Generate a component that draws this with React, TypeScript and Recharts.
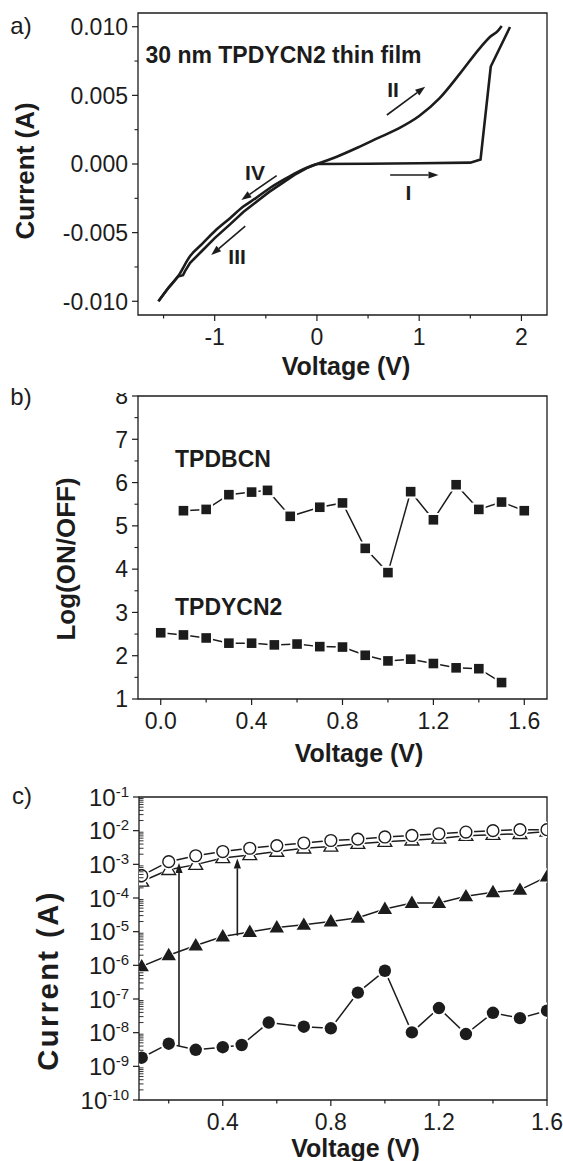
import React from 'react'
import { ComposedChart, Line, Scatter, XAxis, YAxis, ReferenceArea, ReferenceLine } from 'recharts'

const FONT = '"Liberation Sans", Arial, Helvetica, sans-serif'
const INK = '#1c1c1c'
const W = 563

// ---------- a) I-V loop of the 30 nm TPDYCN2 film ----------
const sweepIV = [0, 0.5, 1.0, 1.5, 1.6, 1.7, 1.888]
const sweepIA = [0, 0.00002, 0.00005, 0.0001, 0.00032, 0.0071, 0.00998]
const sweepIIV = [0, 0.2, 0.4, 0.6, 0.8, 1.0, 1.2, 1.4, 1.6, 1.7, 1.77, 1.807]
const sweepIIA = [0, 0.00055, 0.0012, 0.0019, 0.0026, 0.0035, 0.0048, 0.0066, 0.0085, 0.0093, 0.0097, 0.01005]
const sweepIIIV = [0, -0.1, -0.22, -0.35, -0.47, -0.6, -0.72, -0.85, -1.0, -1.12, -1.24, -1.29, -1.31, -1.36, -1.45, -1.55]
const sweepIIIA = [0, -0.0003, -0.0008, -0.00145, -0.00205, -0.0028, -0.0035, -0.0044, -0.0054, -0.0063, -0.0072, -0.0078, -0.0081, -0.0082, -0.009, -0.01]
const sweepIVV = [-1.55, -1.45, -1.36, -1.24, -1.12, -1.0, -0.85, -0.72, -0.6, -0.47, -0.35, -0.22, -0.1, 0]
const sweepIVA = [-0.01, -0.009, -0.0082, -0.0067, -0.0058, -0.0049, -0.00395, -0.0031, -0.0025, -0.0018, -0.00125, -0.0007, -0.00027, 0]

const notesA = [
  { x: -1.677, y: 0.00734, text: '30 nm TPDYCN2 thin film', size: 23, anchor: 'start' },
  { x: 0.745, y: 0.0049, text: 'II', size: 21, anchor: 'middle' },
  { x: 0.895, y: -0.00262, text: 'I', size: 21, anchor: 'middle' },
  { x: -0.606, y: -0.00117, text: 'IV', size: 21, anchor: 'middle' },
  { x: -0.781, y: -0.00725, text: 'III', size: 21, anchor: 'middle' },
]
const arrowsA = [
  { x1: 0.684, y1: 0.00357, x2: 1.059, y2: 0.00563 },
  { x1: 0.716, y1: -0.0008, x2: 1.189, y2: -0.0008 },
  { x1: -0.394, y1: -0.00085, x2: -0.739, y2: -0.00262 },
  { x1: -0.701, y1: -0.00452, x2: -1.034, y2: -0.00663 },
]
const aTicksX = [-1.5, -1, -0.5, 0, 0.5, 1, 1.5, 2]
const aTicksY = [-0.01, -0.0075, -0.005, -0.0025, 0, 0.0025, 0.005, 0.0075, 0.01]

// ---------- b) ON/OFF ratio ----------
const bcnV = [0.1, 0.2, 0.3, 0.4, 0.47, 0.57, 0.7, 0.8, 0.9, 1.0, 1.1, 1.2, 1.3, 1.4, 1.5, 1.6]
const bcnLog = [5.35, 5.38, 5.72, 5.78, 5.82, 5.22, 5.43, 5.53, 4.48, 3.92, 5.79, 5.14, 5.95, 5.38, 5.55, 5.35]
const ycnV = [0, 0.1, 0.2, 0.3, 0.4, 0.5, 0.6, 0.7, 0.8, 0.9, 1.0, 1.1, 1.2, 1.3, 1.4, 1.5]
const ycnLog = [2.53, 2.48, 2.41, 2.29, 2.29, 2.25, 2.27, 2.21, 2.2, 2.01, 1.88, 1.92, 1.82, 1.72, 1.7, 1.38]
const notesB = [
  { x: 0.063, y: 6.36, text: 'TPDBCN', size: 23, anchor: 'start' },
  { x: 0.063, y: 2.94, text: 'TPDYCN2', size: 23, anchor: 'start' },
]
const bTicksX = [0, 0.2, 0.4, 0.6, 0.8, 1.0, 1.2, 1.4, 1.6]
const bTicksY = [1, 1.5, 2, 2.5, 3, 3.5, 4, 4.5, 5, 5.5, 6, 6.5, 7, 7.5, 8]

// ---------- c) ON / OFF currents ----------
const stepV = [0.1, 0.2, 0.3, 0.4, 0.5, 0.6, 0.7, 0.8, 0.9, 1.0, 1.1, 1.2, 1.3, 1.4, 1.5, 1.6]
const offCircV = [0.1, 0.2, 0.3, 0.4, 0.47, 0.57, 0.7, 0.8, 0.9, 1.0, 1.1, 1.2, 1.3, 1.4, 1.5, 1.6]
const offCircA = [1.8e-9, 4.7e-9, 3.1e-9, 3.7e-9, 4.3e-9, 2.0e-8, 1.5e-8, 1.35e-8, 1.55e-7, 6.9e-7, 1.02e-8, 5.4e-8, 9.1e-9, 3.9e-8, 2.7e-8, 4.5e-8]
const offTriA = [9.3e-7, 2.0e-6, 3.9e-6, 7.2e-6, 9.8e-6, 1.33e-5, 1.6e-5, 2.0e-5, 2.6e-5, 4.7e-5, 7.1e-5, 7.1e-5, 1.12e-4, 1.48e-4, 1.75e-4, 4.3e-4]
const onTriA = [3.1e-4, 6.9e-4, 9.8e-4, 1.55e-3, 1.9e-3, 2.4e-3, 3.0e-3, 3.4e-3, 4.1e-3, 4.7e-3, 5.2e-3, 5.9e-3, 7.1e-3, 7.6e-3, 8.1e-3, 9.5e-3]
const onCircA = [4.6e-4, 1.2e-3, 1.8e-3, 2.4e-3, 3.0e-3, 3.6e-3, 4.3e-3, 5.1e-3, 5.6e-3, 6.5e-3, 7.2e-3, 8.1e-3, 9.1e-3, 1.0e-2, 1.07e-2, 1.07e-2]
const arrowsC = [
  { x1: 0.238, y1: 4.0e-9, x2: 0.238, y2: 1.1e-3 },
  { x1: 0.454, y1: 7.6e-6, x2: 0.454, y2: 1.5e-3 },
]
const cTicksX = [0.2, 0.4, 0.6, 0.8, 1.0, 1.2, 1.4, 1.6]
const cDecades = [1e-10, 1e-9, 1e-8, 1e-7, 1e-6, 1e-5, 1e-4, 1e-3, 1e-2, 1e-1]
const cTicksY = [...cDecades, ...cDecades.slice(0, -1).flatMap((d) => [2, 3, 4, 5, 6, 7, 8, 9].map((k) => k * d))]

const pts = (xs: number[], ys: number[]) => xs.map((x, i) => ({ x, y: ys[i] }))
const onStep = (v: number, s: number) => Math.abs(v / s - Math.round(v / s)) < 1e-6

// ---------- shapes ----------
const Arrow = (p: any) => {
  const { x1, y1, x2, y2 } = p
  if ([x1, y1, x2, y2].some((v) => typeof v !== 'number' || isNaN(v))) return <g />
  const a = Math.atan2(y2 - y1, x2 - x1)
  const L = 10, H = 3.6
  const bx = x2 - L * Math.cos(a), by = y2 - L * Math.sin(a)
  const px = -Math.sin(a) * H, py = Math.cos(a) * H
  return (
    <g>
      <line x1={x1} y1={y1} x2={bx} y2={by} stroke={INK} strokeWidth={1.6} />
      <polygon points={`${x2},${y2} ${bx + px},${by + py} ${bx - px},${by - py}`} fill={INK} />
    </g>
  )
}

const Note = (p: any) => {
  const d = p.payload ?? p
  return (
    <text x={p.cx} y={p.cy} textAnchor={d.anchor} fontSize={d.size} fontWeight="bold" fontFamily={FONT} fill={INK}>
      {d.text}
    </text>
  )
}

const Square = (p: any) => {
  const { cx, cy, index } = p
  if (cx == null || cy == null) return <g key={index} />
  return (
    <g key={index}>
      <rect x={cx - 6.8} y={cy - 6.8} width={13.6} height={13.6} fill="#fff" />
      <rect x={cx - 4.8} y={cy - 4.8} width={9.6} height={9.6} fill={INK} />
    </g>
  )
}

const tri = (cx: number, cy: number, s: number) =>
  `${cx},${cy - 7.2 * s} ${cx + 7 * s},${cy + 4.8 * s} ${cx - 7 * s},${cy + 4.8 * s}`

const makeDot = (kind: 'circle' | 'tri', open: boolean) => (p: any) => {
  const { cx, cy, index } = p
  if (cx == null || cy == null) return <g key={index} />
  if (kind === 'circle') {
    return (
      <g key={index}>
        <circle cx={cx} cy={cy} r={8.2} fill="#fff" />
        <circle cx={cx} cy={cy} r={open ? 5.9 : 6.2} fill={open ? '#fff' : INK} stroke={INK} strokeWidth={open ? 1.4 : 0} />
      </g>
    )
  }
  return (
    <g key={index}>
      <polygon points={tri(cx, cy, 1.28)} fill="#fff" />
      <polygon points={tri(cx, cy, open ? 0.98 : 1.03)} fill={open ? '#fff' : INK} stroke={INK} strokeWidth={open ? 1.4 : 0} />
    </g>
  )
}

// ---------- ticks ----------
type TickCfg = {
  major: (v: number) => boolean
  label: (v: number) => React.ReactNode
  minorIn?: boolean
  size?: number
}

const leftTick = (cfg: TickCfg) => (p: any) => {
  const { x, y, payload } = p
  const v = payload.value
  const maj = cfg.major(v)
  const clipId = `clip-top-${Math.round(y)}`
  const clipped = v === 8
  return (
    <g>
      {maj ? (
        <line x1={x - 6} x2={x} y1={y} y2={y} stroke={INK} strokeWidth={1.2} />
      ) : cfg.minorIn ? (
        <line x1={x} x2={x + 4.5} y1={y} y2={y} stroke={INK} strokeWidth={0.9} />
      ) : (
        <line x1={x - 3.5} x2={x} y1={y} y2={y} stroke={INK} strokeWidth={1.1} />
      )}
      {clipped && (
        <defs>
          <clipPath id={clipId}>
            <rect x={x - 40} y={y - 3} width={40} height={20} />
          </clipPath>
        </defs>
      )}
      {maj && (
        <text
          x={x - 10}
          y={y}
          dy="0.36em"
          textAnchor="end"
          fontSize={cfg.size ?? 23}
          fontFamily={FONT}
          fill={INK}
          clipPath={clipped ? `url(#${clipId})` : undefined}
        >
          {cfg.label(v)}
        </text>
      )}
    </g>
  )
}

const bottomTick = (cfg: TickCfg) => (p: any) => {
  const { x, y, payload } = p
  const v = payload.value
  const maj = cfg.major(v)
  return (
    <g>
      <line x1={x} x2={x} y1={y} y2={y + (maj ? 6 : 3.5)} stroke={INK} strokeWidth={1.2} />
      {maj && (
        <text x={x} y={y + 30} textAnchor="middle" fontSize={23} fontFamily={FONT} fill={INK}>
          {cfg.label(v)}
        </text>
      )}
    </g>
  )
}

const powLabel = (v: number) => (
  <>
    10
    <tspan fontSize={15} dy="-0.6em">{String(Math.round(Math.log10(v)))}</tspan>
  </>
)

// ---------- overlay text ----------
type YTitle = { text: string; x: number; y: number; size: number; length?: number }
function Titles({ h, y, x, tag }: { h: number; y: YTitle; x: [string, number, number]; tag: [string, number, number] }) {
  return (
    <svg width={W} height={h} style={{ position: 'absolute', left: 0, top: 0, pointerEvents: 'none', overflow: 'visible' }}>
      <text
        x={y.x}
        y={y.y}
        transform={`rotate(-90 ${y.x} ${y.y})`}
        textAnchor="middle"
        dominantBaseline="central"
        fontSize={y.size}
        fontWeight="bold"
        fontFamily={FONT}
        fill={INK}
        textLength={y.length}
        lengthAdjust={y.length ? 'spacing' : undefined}
      >
        {y.text}
      </text>
      <text x={x[1]} y={x[2]} textAnchor="middle" dominantBaseline="central" fontSize={25} fontWeight="bold" fontFamily={FONT} fill={INK}>
        {x[0]}
      </text>
      <text x={tag[1]} y={tag[2]} textAnchor="middle" dominantBaseline="central" fontSize={24} fontFamily={FONT} fill={INK}>
        {tag[0]}
      </text>
    </svg>
  )
}

function PanelA() {
  const h = 385
  const base = { dataKey: 'y', dot: false, stroke: INK, strokeWidth: 2.6, isAnimationActive: false }
  return (
    <div style={{ position: 'absolute', left: 0, top: 0, width: W, height: h }}>
      <ComposedChart width={W} height={h} margin={{ top: 13, right: 16, bottom: 0, left: 0 }}>
        <XAxis
          type="number"
          dataKey="x"
          domain={[-1.75, 2.25]}
          ticks={aTicksX}
          interval={0}
          height={70}
          axisLine={false}
          tickLine={false}
          tickSize={0}
          tickMargin={0}
          tick={bottomTick({ major: (v) => onStep(v, 1), label: (v) => String(v) })}
        />
        <YAxis
          type="number"
          domain={[-0.011, 0.011]}
          ticks={aTicksY}
          interval={0}
          width={138}
          axisLine={false}
          tickLine={false}
          tickSize={0}
          tickMargin={0}
          tick={leftTick({ major: (v) => onStep(v, 0.005), label: (v) => (Math.abs(v) < 1e-9 ? '0.000' : v.toFixed(3)) })}
        />
        <ReferenceArea x1={-1.75} x2={2.25} y1={-0.011} y2={0.011} fill="none" stroke={INK} strokeWidth={1.3} />
        <Line {...base} type="linear" data={pts(sweepIV, sweepIA)} />
        <Line {...base} type="monotone" data={pts(sweepIIV, sweepIIA)} />
        <Line {...base} type="linear" data={pts(sweepIIIV, sweepIIIA)} />
        <Line {...base} type="monotone" data={pts(sweepIVV, sweepIVA)} />
        {arrowsA.map((a, i) => (
          <ReferenceLine key={i} segment={[{ x: a.x1, y: a.y1 }, { x: a.x2, y: a.y2 }]} shape={Arrow} ifOverflow="visible" />
        ))}
        <Scatter data={notesA} dataKey="y" shape={Note} isAnimationActive={false} />
      </ComposedChart>
      <Titles h={h} y={{ text: 'Current (A)', x: 25, y: 171, size: 26 }} x={['Voltage (V)', 346, 366]} tag={['a)', 21, 25]} />
    </div>
  )
}

function PanelB() {
  const h = 385
  const line = { dataKey: 'y', stroke: INK, strokeWidth: 1.5, type: 'linear' as const, isAnimationActive: false, dot: Square }
  return (
    <div style={{ position: 'absolute', left: 0, top: 385, width: W, height: h }}>
      <ComposedChart width={W} height={h} margin={{ top: 11, right: 16, bottom: 0, left: 0 }}>
        <XAxis
          type="number"
          dataKey="x"
          domain={[-0.1, 1.7]}
          ticks={bTicksX}
          interval={0}
          height={71}
          axisLine={false}
          tickLine={false}
          tickSize={0}
          tickMargin={0}
          tick={bottomTick({ major: (v) => onStep(v, 0.4), label: (v) => v.toFixed(1) })}
        />
        <YAxis
          type="number"
          domain={[1, 8]}
          ticks={bTicksY}
          interval={0}
          width={138}
          axisLine={false}
          tickLine={false}
          tickSize={0}
          tickMargin={0}
          tick={leftTick({ major: (v) => onStep(v, 1), label: (v) => String(v) })}
        />
        <ReferenceArea x1={-0.1} x2={1.7} y1={1} y2={8} fill="none" stroke={INK} strokeWidth={1.3} />
        <Line {...line} data={pts(bcnV, bcnLog)} />
        <Line {...line} data={pts(ycnV, ycnLog)} />
        <Scatter data={notesB} dataKey="y" shape={Note} isAnimationActive={false} />
      </ComposedChart>
      <Titles h={h} y={{ text: 'Log(ON/OFF)', x: 65.5, y: 174, size: 26 }} x={['Voltage (V)', 359, 368]} tag={['b)', 21, 11]} />
    </div>
  )
}

function PanelC() {
  const h = 391
  const line = { dataKey: 'y', stroke: INK, strokeWidth: 1.5, type: 'linear' as const, isAnimationActive: false }
  return (
    <div style={{ position: 'absolute', left: 0, top: 770, width: W, height: h }}>
      <ComposedChart width={W} height={h} margin={{ top: 27, right: 16, bottom: 0, left: 0 }}>
        <XAxis
          type="number"
          dataKey="x"
          domain={[0.09, 1.6]}
          allowDataOverflow
          ticks={cTicksX}
          interval={0}
          height={61}
          axisLine={false}
          tickLine={false}
          tickSize={0}
          tickMargin={0}
          tick={bottomTick({ major: (v) => onStep(v, 0.4), label: (v) => v.toFixed(1) })}
        />
        <YAxis
          type="number"
          scale="log"
          domain={[1e-10, 1e-1]}
          allowDataOverflow
          ticks={cTicksY}
          interval={0}
          width={139}
          axisLine={false}
          tickLine={false}
          tickSize={0}
          tickMargin={0}
          tick={leftTick({ major: (v) => onStep(Math.log10(v), 1), label: powLabel, minorIn: true, size: 24 })}
        />
        <ReferenceArea x1={0.09} x2={1.6} y1={1e-10} y2={1e-1} fill="none" stroke={INK} strokeWidth={1.3} />
        <Line {...line} data={pts(offCircV, offCircA)} dot={makeDot('circle', false)} />
        <Line {...line} data={pts(stepV, offTriA)} dot={makeDot('tri', false)} />
        <Line {...line} data={pts(stepV, onTriA)} dot={makeDot('tri', true)} />
        <Line {...line} data={pts(stepV, onCircA)} dot={makeDot('circle', true)} />
        {arrowsC.map((a, i) => (
          <ReferenceLine key={i} segment={[{ x: a.x1, y: a.y1 }, { x: a.x2, y: a.y2 }]} shape={Arrow} ifOverflow="visible" />
        ))}
      </ComposedChart>
      <Titles
        h={h}
        y={{ text: 'Current (A)', x: 48.5, y: 211.7, size: 29, length: 178 }}
        x={['Voltage (V)', 355.5, 378]}
        tag={['c)', 22, 25]}
      />
    </div>
  )
}

export default function App() {
  return (
    <div style={{ position: 'absolute', left: 0, top: 0, width: W, height: 1161, background: '#fff', overflow: 'hidden' }}>
      <PanelA />
      <PanelB />
      <PanelC />
    </div>
  )
}
